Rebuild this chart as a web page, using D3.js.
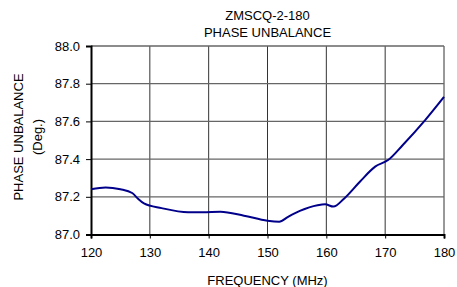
<!DOCTYPE html>
<html>
<head>
<meta charset="utf-8">
<script src="https://cdn.jsdelivr.net/npm/d3@7"></script>
<style>
  body { margin: 0; background: #fff; }
  text { font-family: "Liberation Sans", Arial, sans-serif; font-size: 13px; fill: #000; }
</style>
</head>
<body>
<svg width="457" height="287"></svg>
<script>
const titleLines = ['ZMSCQ-2-180', 'PHASE UNBALANCE'];
const xTicks = [120, 130, 140, 150, 160, 170, 180];
const yTicks = [87.0, 87.2, 87.4, 87.6, 87.8, 88.0];
const freq = [120, 122.5, 125, 127, 128, 129, 132, 136.5, 139, 142, 146, 150, 152, 153.5, 155.5, 158.5, 159.8, 161.2, 163, 165.7, 168.3, 170.5, 173, 176.8, 180];
const phase = [87.24, 87.25, 87.24, 87.22, 87.19, 87.165, 87.14, 87.118, 87.118, 87.121, 87.10, 87.073, 87.068, 87.094, 87.125, 87.155, 87.16, 87.148, 87.19, 87.28, 87.36, 87.395, 87.475, 87.607, 87.73];

const svg = d3.select('svg');
const plotL = 91, plotR = 444, plotT = 46, plotB = 234.5;

const x = d3.scaleLinear().domain([120, 180]).range([plotL, plotR]);
const y = d3.scaleLinear().domain([87, 88]).range([plotB, plotT]);

// grid
svg.append('g')
  .selectAll('line')
  .data(xTicks.slice(1))
  .enter()
  .append('line')
  .attr('x1', d => x(d)).attr('x2', d => x(d))
  .attr('y1', plotT).attr('y2', plotB)
  .attr('stroke', '#333').attr('stroke-width', 1);

svg.append('g')
  .selectAll('line')
  .data(yTicks.slice(1))
  .enter()
  .append('line')
  .attr('x1', plotL).attr('x2', plotR)
  .attr('y1', d => y(d)).attr('y2', d => y(d))
  .attr('stroke', '#666').attr('stroke-width', 1.3);

// axes
const yAxis = svg.append('g')
  .attr('transform', `translate(${plotL},0)`)
  .call(d3.axisLeft(y).tickValues(yTicks).tickFormat(d3.format('.1f')).tickSize(5).tickPadding(6));
yAxis.select('.domain').attr('stroke-width', 2);

const xAxis = svg.append('g')
  .attr('transform', `translate(0,${plotB})`)
  .call(d3.axisBottom(x).tickValues(xTicks).tickSize(4).tickPadding(9));
xAxis.select('.domain').attr('stroke-width', 2);

svg.selectAll('.tick text')
  .style('font-family', '"Liberation Sans", Arial, sans-serif')
  .style('font-size', '13px');

// curve
const pts = freq.map((f, i) => [f, phase[i]]);
svg.append('path')
  .datum(pts)
  .attr('fill', 'none')
  .attr('stroke', '#00008b')
  .attr('stroke-width', 2)
  .attr('d', d3.line().x(d => x(d[0])).y(d => y(d[1])).curve(d3.curveMonotoneX));

// titles
svg.selectAll('.title')
  .data(titleLines)
  .enter()
  .append('text')
  .attr('x', (plotL + plotR) / 2)
  .attr('y', (d, i) => 20 + i * 17)
  .attr('text-anchor', 'middle')
  .text(d => d);

svg.append('text')
  .attr('x', (plotL + plotR) / 2)
  .attr('y', 285)
  .attr('text-anchor', 'middle')
  .text('FREQUENCY (MHz)');

svg.append('text')
  .attr('transform', 'translate(23,137) rotate(-90)')
  .attr('text-anchor', 'middle')
  .text('PHASE UNBALANCE');
svg.append('text')
  .attr('transform', 'translate(42,137) rotate(-90)')
  .attr('text-anchor', 'middle')
  .text('(Deg.)');
</script>
</body>
</html>
